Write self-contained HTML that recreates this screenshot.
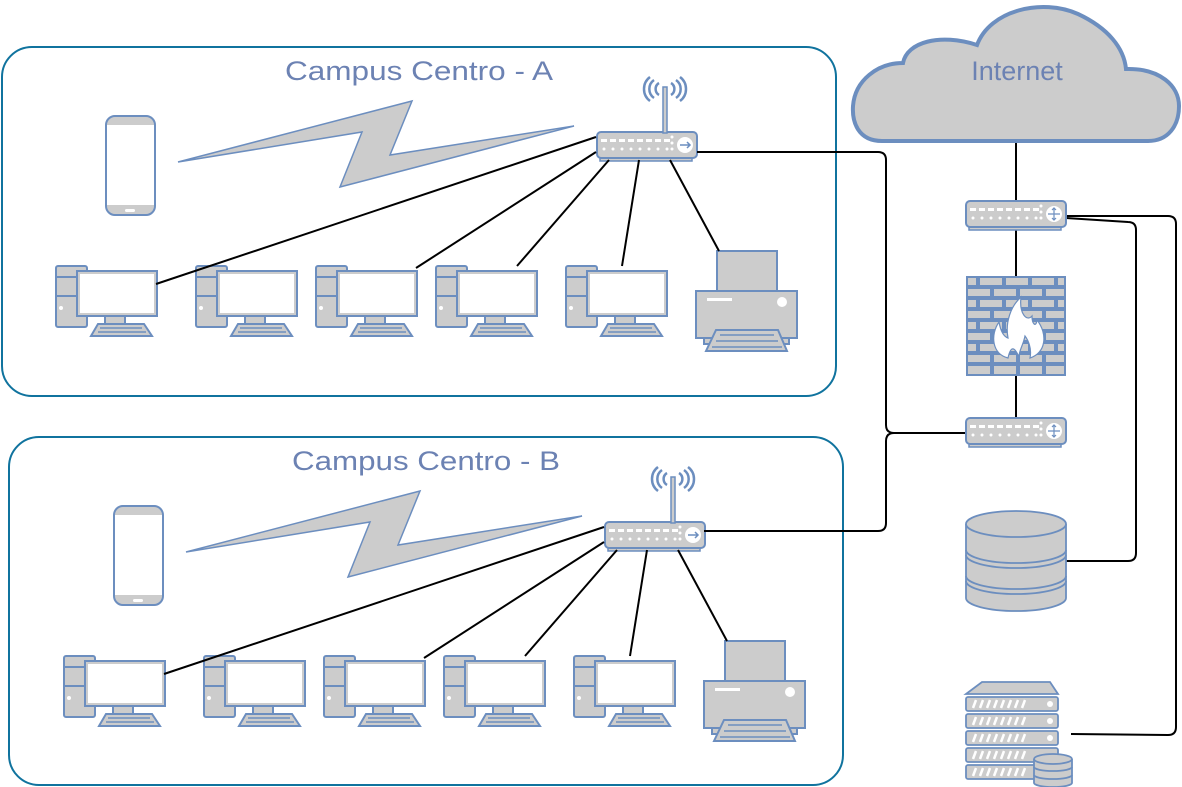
<!DOCTYPE html>
<html><head><meta charset="utf-8"><style>html,body{margin:0;padding:0;background:#fff}svg{display:block}</style></head>
<body>
<svg width="1182" height="787" viewBox="0 0 1182 787" xmlns="http://www.w3.org/2000/svg">
<defs>
<g id="pc" stroke="#6c8ebf" stroke-width="2" fill="#cccccc">
  <rect x="0" y="0" width="31" height="61" rx="2"/>
  <line x1="0" y1="11" x2="21" y2="11"/><line x1="0" y1="30" x2="21" y2="30"/>
  <circle cx="5" cy="42" r="2" fill="#fff" stroke="none"/>
  <rect x="21" y="5" width="80" height="45"/>
  <rect x="24" y="8" width="74" height="39" fill="#fff" stroke="none"/>
  <rect x="49" y="50" width="20" height="8"/>
  <path d="M35,70 L42,58 L88,58 L96,70 Z"/>
  <line x1="44" y1="62" x2="86" y2="62" stroke-width="1.5"/><line x1="42" y1="66" x2="90" y2="66" stroke-width="1.5"/>
</g>
<g id="phone">
  <rect x="1" y="1" width="49" height="99" rx="9" fill="#cccccc" stroke="#6c8ebf" stroke-width="2"/>
  <rect x="2" y="10" width="47" height="80" fill="#fff"/>
  <rect x="20" y="94" width="10" height="3" rx="1.5" fill="#fff"/>
</g>
<g id="printer" stroke="#6c8ebf" stroke-width="2" fill="#cccccc">
  <rect x="21" y="0" width="60" height="40"/>
  <rect x="0" y="40" width="101" height="47"/>
  <rect x="8" y="87" width="85" height="6"/>
  <path d="M10,100 L20,79 L82,79 L91,100 Z"/>
  <line x1="24" y1="84" x2="78" y2="84" stroke-width="1.5"/><line x1="20" y1="90" x2="82" y2="90" stroke-width="1.5"/><line x1="16" y1="96" x2="86" y2="96" stroke-width="1.5"/>
  <rect x="11" y="47" width="25" height="3" fill="#fff" stroke="none"/>
  <circle cx="86" cy="51" r="5" fill="#fff" stroke="none"/>
</g>
<g id="sw">
  <rect x="4" y="26" width="92" height="4" fill="#cccccc" stroke="#6c8ebf" stroke-width="1.5"/>
  <rect x="1" y="1" width="100" height="26" rx="4" fill="#cccccc" stroke="#6c8ebf" stroke-width="2"/>
  <g fill="#fff">
    <rect x="5" y="8" width="6" height="3"/><rect x="14" y="8" width="6" height="3"/><rect x="23" y="8" width="6" height="3"/><rect x="32" y="8" width="6" height="3"/><rect x="41" y="8" width="6" height="3"/><rect x="50" y="8" width="6" height="3"/><rect x="59" y="8" width="6" height="3"/><rect x="68" y="8" width="6" height="3"/>
    <circle cx="8" cy="18" r="1.5"/><circle cx="17" cy="18" r="1.5"/><circle cx="26" cy="18" r="1.5"/><circle cx="35" cy="18" r="1.5"/><circle cx="44" cy="18" r="1.5"/><circle cx="53" cy="18" r="1.5"/><circle cx="62" cy="18" r="1.5"/><circle cx="71" cy="18" r="1.5"/>
    <circle cx="76" cy="6" r="1.5"/><circle cx="76" cy="12" r="1.5"/><circle cx="76" cy="18" r="1.5"/>
    <circle cx="89" cy="14" r="8"/>
  </g>
</g>
<g id="wrouter">
  <use href="#sw"/>
  <path d="M84,14 L94,14 M91,11 L94,14 L91,17" stroke="#6c8ebf" stroke-width="1.5" fill="none"/>
  <rect x="67" y="-44" width="4" height="46" fill="#cccccc" stroke="#6c8ebf" stroke-width="1.5"/>
  <g fill="none" stroke="#6c8ebf" stroke-width="2.5">
    <path d="M63,-48 a7,7 0 0,0 0,12"/><path d="M58,-51 a11,11 0 0,0 0,18"/><path d="M54,-54 a15,15 0 0,0 0,24"/>
    <path d="M75,-48 a7,7 0 0,1 0,12"/><path d="M80,-51 a11,11 0 0,1 0,18"/><path d="M84,-54 a15,15 0 0,1 0,24"/>
  </g>
</g>
<g id="core">
  <use href="#sw"/>
  <path d="M89,8 L89,20 M83,14 L95,14 M87,10 L89,8 L91,10 M87,18 L89,20 L91,18" stroke="#6c8ebf" stroke-width="1.2" fill="none"/>
</g>
</defs>

<!-- campus boxes -->
<rect x="2" y="47" width="834" height="349" rx="30" fill="none" stroke="#10739e" stroke-width="2"/>
<rect x="9" y="437" width="834" height="348" rx="30" fill="none" stroke="#10739e" stroke-width="2"/>
<text x="419" y="80" text-anchor="middle" font-family="'Liberation Sans', sans-serif" font-size="27" fill="#6c82b3" textLength="268" lengthAdjust="spacingAndGlyphs">Campus Centro - A</text>
<text x="426" y="470" text-anchor="middle" font-family="'Liberation Sans', sans-serif" font-size="27" fill="#6c82b3" textLength="268" lengthAdjust="spacingAndGlyphs">Campus Centro - B</text>

<!-- Campus A -->
<use href="#phone" x="105" y="115"/>
<polygon points="178,162 412,101 390,155 574,126 340,187 362,132" fill="#cccccc" stroke="#6c8ebf" stroke-width="1.5"/>
<use href="#wrouter" x="596" y="131"/>
<use href="#pc" x="56" y="266"/><use href="#pc" x="196" y="266"/><use href="#pc" x="316" y="266"/><use href="#pc" x="436" y="266"/><use href="#pc" x="566" y="266"/>
<use href="#printer" x="696" y="251"/>

<!-- Campus B -->
<use href="#phone" x="113" y="505"/>
<polygon points="186,552 420,491 398,545 582,516 348,577 370,522" fill="#cccccc" stroke="#6c8ebf" stroke-width="1.5"/>
<use href="#wrouter" x="604" y="521"/>
<use href="#pc" x="64" y="656"/><use href="#pc" x="204" y="656"/><use href="#pc" x="324" y="656"/><use href="#pc" x="444" y="656"/><use href="#pc" x="574" y="656"/>
<use href="#printer" x="704" y="641"/>

<!-- connectors -->
<g stroke="#000" stroke-width="2" fill="none">
  <line x1="596" y1="137" x2="156" y2="284"/>
  <line x1="596" y1="152" x2="416" y2="268"/>
  <line x1="609" y1="160" x2="517" y2="266"/>
  <line x1="639" y1="160" x2="622" y2="266"/>
  <line x1="670" y1="160" x2="719" y2="251"/>
  <path d="M697,152 L878,152 Q886,152 886,160 L886,425 Q886,433 894,433 L966,433"/>
  <line x1="604" y1="527" x2="164" y2="674"/>
  <line x1="604" y1="542" x2="424" y2="658"/>
  <line x1="617" y1="550" x2="525" y2="656"/>
  <line x1="647" y1="550" x2="630" y2="656"/>
  <line x1="678" y1="550" x2="727" y2="641"/>
  <path d="M704,531 L878,531 Q886,531 886,523 L886,441 Q886,433 894,433"/>
  <line x1="1016" y1="142" x2="1016" y2="201"/>
  <line x1="1016" y1="229" x2="1016" y2="276"/>
  <line x1="1016" y1="376" x2="1016" y2="418"/>
  <path d="M1066,216 L1168,216 Q1176,216 1176,224 L1176,727 Q1176,735 1168,735 L1071,734"/>
  <path d="M1066,218 L1128,222 Q1136,222 1136,230 L1136,553 Q1136,561 1128,561 L1066,561"/>
</g>

<!-- Internet cloud -->
<path d="M882,141 C858,141 852,122 853,106 C855,80 878,63 903,63 C907,42 940,33 977,45 C990,10 1042,-2 1078,14 C1108,28 1124,48 1126,69 C1160,68 1179,86 1179,106 C1179,126 1168,141 1148,141 Z" fill="#cccccc" stroke="#6c8ebf" stroke-width="4"/>
<text x="1017" y="80" text-anchor="middle" font-family="'Liberation Sans', sans-serif" font-size="27" fill="#6c82b3">Internet</text>

<!-- core routers -->
<use href="#core" x="965" y="200"/>
<use href="#core" x="965" y="417"/>

<!-- firewall -->
<g>
  <rect x="966" y="276" width="100" height="100" fill="#6c8ebf"/>
  <g fill="#cccccc">
    <rect x="968" y="278" width="8" height="7"/><rect x="980" y="278" width="22" height="7"/><rect x="1006" y="278" width="22" height="7"/><rect x="1032" y="278" width="22" height="7"/><rect x="1058" y="278" width="6" height="7"/>
    <rect x="968" y="289" width="22" height="7"/><rect x="994" y="289" width="22" height="7"/><rect x="1020" y="289" width="22" height="7"/><rect x="1046" y="289" width="18" height="7"/>
    <rect x="968" y="300" width="8" height="7"/><rect x="980" y="300" width="22" height="7"/><rect x="1006" y="300" width="22" height="7"/><rect x="1032" y="300" width="22" height="7"/><rect x="1058" y="300" width="6" height="7"/>
    <rect x="968" y="311" width="22" height="7"/><rect x="994" y="311" width="22" height="7"/><rect x="1020" y="311" width="22" height="7"/><rect x="1046" y="311" width="18" height="7"/>
    <rect x="968" y="322" width="8" height="7"/><rect x="980" y="322" width="22" height="7"/><rect x="1006" y="322" width="22" height="7"/><rect x="1032" y="322" width="22" height="7"/><rect x="1058" y="322" width="6" height="7"/>
    <rect x="968" y="333" width="22" height="7"/><rect x="994" y="333" width="22" height="7"/><rect x="1020" y="333" width="22" height="7"/><rect x="1046" y="333" width="18" height="7"/>
    <rect x="968" y="344" width="8" height="7"/><rect x="980" y="344" width="22" height="7"/><rect x="1006" y="344" width="22" height="7"/><rect x="1032" y="344" width="22" height="7"/><rect x="1058" y="344" width="6" height="7"/>
    <rect x="968" y="355" width="22" height="7"/><rect x="994" y="355" width="22" height="7"/><rect x="1020" y="355" width="22" height="7"/><rect x="1046" y="355" width="18" height="7"/>
    <rect x="968" y="366" width="22" height="8"/><rect x="994" y="366" width="22" height="8"/><rect x="1020" y="366" width="22" height="8"/><rect x="1046" y="366" width="18" height="8"/>
  </g>
  <path d="M1008,358 C992,354 990,335 999,322 C1001,333 1005,337 1008,338 C1005,322 1011,306 1021,297 C1019,314 1027,322 1032,316 C1032,324 1036,328 1037,320 C1048,334 1046,353 1030,358 C1032,348 1028,340 1025,336 C1023,346 1019,350 1019,357 C1015,348 1011,344 1008,358 Z" fill="#fff" stroke="#6c8ebf" stroke-width="1.2"/>
</g>

<!-- database -->
<g stroke="#6c8ebf" stroke-width="1.8" fill="#cccccc">
  <path d="M966,524 L966,598 A50,13 0 0,0 1066,598 L1066,524"/>
  <ellipse cx="1016" cy="524" rx="50" ry="13"/>
  <path d="M966,550 A50,13 0 0,0 1066,550" fill="none"/>
  <path d="M966,555 A50,13 0 0,0 1066,555" fill="none"/>
  <path d="M966,576 A50,13 0 0,0 1066,576" fill="none"/>
  <path d="M966,581 A50,13 0 0,0 1066,581" fill="none"/>
</g>

<!-- server -->
<g stroke="#6c8ebf" stroke-width="1.8" fill="#cccccc">
  <path d="M966,694 L982,682 L1050,682 L1058,694 Z"/>
  <rect x="966" y="697" width="92" height="14" rx="2"/>
  <rect x="966" y="714" width="92" height="14" rx="2"/>
  <rect x="966" y="731" width="92" height="14" rx="2"/>
  <rect x="966" y="748" width="92" height="14" rx="2"/>
  <rect x="966" y="765" width="92" height="14" rx="2"/>
</g>
<g stroke="#fff" stroke-width="2.5">
  <path d="M973,708 l3,-8 M980,708 l3,-8 M987,708 l3,-8 M994,708 l3,-8 M1001,708 l3,-8 M1008,708 l3,-8 M1015,708 l3,-8 M1022,708 l3,-8"/>
  <path d="M973,725 l3,-8 M980,725 l3,-8 M987,725 l3,-8 M994,725 l3,-8 M1001,725 l3,-8 M1008,725 l3,-8 M1015,725 l3,-8 M1022,725 l3,-8"/>
  <path d="M973,742 l3,-8 M980,742 l3,-8 M987,742 l3,-8 M994,742 l3,-8 M1001,742 l3,-8 M1008,742 l3,-8 M1015,742 l3,-8 M1022,742 l3,-8"/>
  <path d="M973,759 l3,-8 M980,759 l3,-8 M987,759 l3,-8 M994,759 l3,-8 M1001,759 l3,-8 M1008,759 l3,-8 M1015,759 l3,-8 M1022,759 l3,-8"/>
  <path d="M973,776 l3,-8 M980,776 l3,-8 M987,776 l3,-8 M994,776 l3,-8 M1001,776 l3,-8 M1008,776 l3,-8 M1015,776 l3,-8 M1022,776 l3,-8"/>
</g>
<g fill="#fff"><circle cx="1050" cy="704" r="3"/><circle cx="1050" cy="721" r="3"/><circle cx="1050" cy="738" r="3"/></g>
<g stroke="#6c8ebf" stroke-width="1.8" fill="#cccccc">
  <path d="M1034,759 L1034,783 A19,4 0 0,0 1072,783 L1072,759"/>
  <ellipse cx="1053" cy="759" rx="19" ry="5"/>
  <path d="M1034,767 A19,4 0 0,0 1072,767 M1034,775 A19,4 0 0,0 1072,775" fill="none"/>
</g>
</svg>
</body></html>
